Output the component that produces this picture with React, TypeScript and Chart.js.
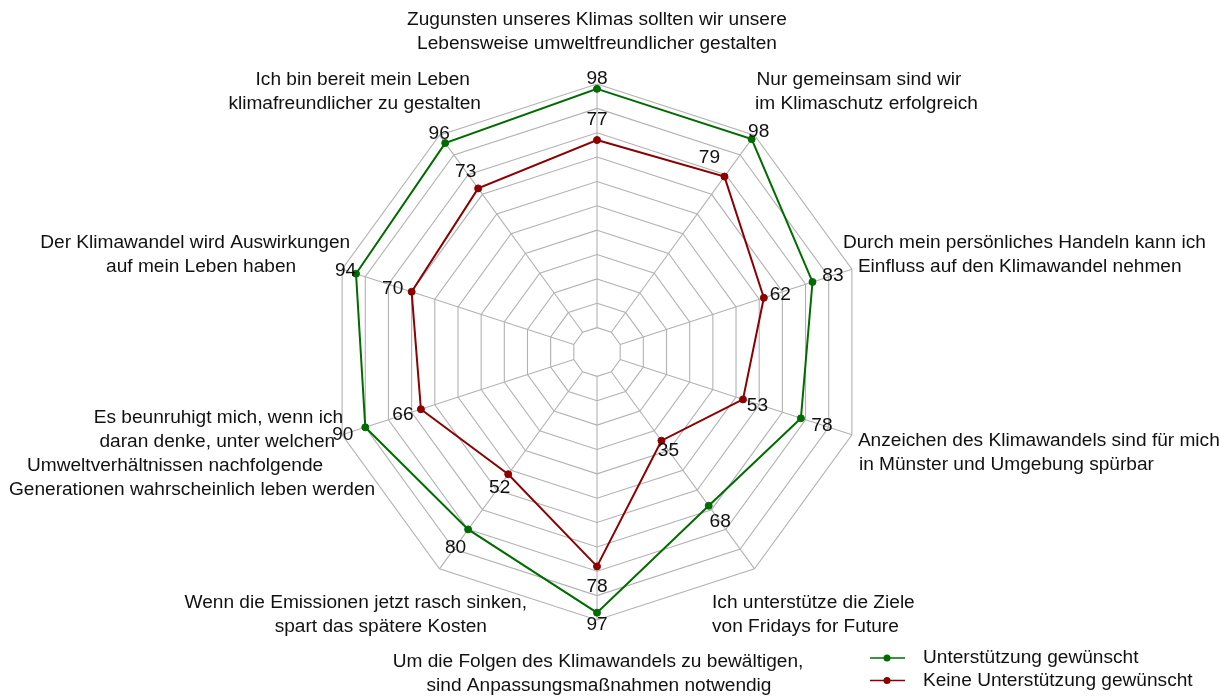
import React, { useEffect, useRef } from "react";
import { Chart, registerables } from "chart.js";

Chart.register(...registerables);

// ---------- data ----------
const categories: string[][] = [
  ["Zugunsten unseres Klimas sollten wir unsere", "Lebensweise umweltfreundlicher gestalten"],
  ["Nur gemeinsam sind wir", "im Klimaschutz erfolgreich"],
  ["Durch mein persönliches Handeln kann ich", "Einfluss auf den Klimawandel nehmen"],
  ["Anzeichen des Klimawandels sind für mich", "in Münster und Umgebung spürbar"],
  ["Ich unterstütze die Ziele", "von Fridays for Future"],
  ["Um die Folgen des Klimawandels zu bewältigen,", "sind Anpassungsmaßnahmen notwendig"],
  ["Wenn die Emissionen jetzt rasch sinken,", "spart das spätere Kosten"],
  [
    "Es beunruhigt mich, wenn ich",
    "daran denke, unter welchen",
    "Umweltverhältnissen nachfolgende",
    "Generationen wahrscheinlich leben werden",
  ],
  ["Der Klimawandel wird Auswirkungen", "auf mein Leben haben"],
  ["Ich bin bereit mein Leben", "klimafreundlicher zu gestalten"],
];

const supportWanted = [98, 98, 83, 78, 68, 97, 80, 90, 94, 96];
const noSupportWanted = [77, 79, 62, 53, 35, 78, 52, 66, 70, 73];
const seriesNames = ["Unterstützung gewünscht", "Keine Unterstützung gewünscht"];

const scaleMin = -10;
const scaleMax = 100;
const scaleStep = 10;

// ---------- styles / layout ----------
const GREEN = "rgb(0,108,0)";
const RED = "rgb(140,0,0)";
const GRID = "rgb(178,178,178)";
const TEXT = "#111";
const FONT = "19.1px 'Liberation Sans', Arial, sans-serif";

// label layout relative to the outer vertex of each axis: align + [dx, dy] per line
const labelLayout: { align: CanvasTextAlign; lines: number[][] }[] = [
  { align: "center", lines: [[0, -64], [0, -40]] },
  { align: "left", lines: [[2, -55], [0.5, -31]] },
  { align: "left", lines: [[-9, -26], [6, -2]] },
  { align: "left", lines: [[6, 6], [7, 30]] },
  { align: "left", lines: [[-42.5, 34], [-42.5, 58]] },
  { align: "center", lines: [[1, 42], [2, 66]] },
  { align: "right", lines: [[87.5, 34], [47.5, 58]] },
  { align: "right", lines: [[1, -17], [-7, 7], [-19, 31], [33, 55]] },
  { align: "right", lines: [[8, -26], [-46, -2]] },
  { align: "right", lines: [[30.5, -55], [41.5, -31]] },
];

// value label offsets relative to each point [dx, dy]
const greenLabelOffsets = [
  [0, -10], [7, -7], [20.5, -6], [21, 7], [11.5, 16], [0, 12], [-12.5, 18], [-22.5, 7], [-10.5, -2.5], [-6, -9],
];
const redLabelOffsets = [
  [0, -20], [-15, -19], [16.5, -3.5], [14.5, 6.5], [7, 10.5], [0, 20.5], [-8.5, 13.5], [-18, 6], [-19, -3.5], [-12.5, -16.5],
];

const customPlugin = {
  id: "customRadarDecor",
  beforeDatasetsDraw(chart: any) {
    const scale = chart.scales.r;
    const ctx = chart.ctx;
    const r0 = scale.getDistanceFromCenterForValue(0);
    const r1 = scale.getDistanceFromCenterForValue(scaleMax);
    ctx.save();
    ctx.strokeStyle = GRID;
    ctx.lineWidth = 1.1;
    for (let i = 0; i < categories.length; i++) {
      const a = scale.getPointPosition(i, r0);
      const b = scale.getPointPosition(i, r1);
      ctx.beginPath();
      ctx.moveTo(a.x, a.y);
      ctx.lineTo(b.x, b.y);
      ctx.stroke();
    }
    ctx.restore();
  },
  afterDraw(chart: any) {
    const scale = chart.scales.r;
    const ctx = chart.ctx;
    const rOuter = scale.getDistanceFromCenterForValue(scaleMax);
    ctx.save();
    ctx.font = FONT;
    ctx.fillStyle = TEXT;
    ctx.textBaseline = "middle";
    // category labels
    categories.forEach((lines, i) => {
      const v = scale.getPointPosition(i, rOuter);
      const lay = labelLayout[i];
      ctx.textAlign = lay.align;
      lines.forEach((line, j) => {
        const off = lay.lines[j];
        ctx.fillText(line, v.x + off[0], v.y + off[1]);
      });
    });
    // value labels
    ctx.textAlign = "center";
    const offs = [greenLabelOffsets, redLabelOffsets];
    chart.data.datasets.forEach((ds: any, di: number) => {
      const meta = chart.getDatasetMeta(di);
      meta.data.forEach((pt: any, i: number) => {
        const o = offs[di][i];
        ctx.fillText(String(ds.data[i]), pt.x + o[0], pt.y + o[1]);
      });
    });
    // legend
    const colors = [GREEN, RED];
    const legendX = 870;
    const legendY = 658;
    const rowH = 22.5;
    seriesNames.forEach((name, i) => {
      const y = legendY + i * rowH;
      ctx.strokeStyle = colors[i];
      ctx.lineWidth = 1.5;
      ctx.beginPath();
      ctx.moveTo(legendX, y);
      ctx.lineTo(legendX + 35, y);
      ctx.stroke();
      ctx.fillStyle = colors[i];
      ctx.beginPath();
      ctx.arc(legendX + 17, y, 3.5, 0, Math.PI * 2);
      ctx.fill();
      ctx.fillStyle = TEXT;
      ctx.textAlign = "left";
      ctx.fillText(name, legendX + 53, y);
    });
    ctx.restore();
  },
};

export default function App() {
  const canvasRef = useRef<HTMLCanvasElement | null>(null);

  useEffect(() => {
    if (!canvasRef.current) return;
    const chart = new Chart(canvasRef.current, {
      type: "radar",
      data: {
        labels: categories.map((c) => c.join(" ")),
        datasets: [
          {
            label: seriesNames[0],
            data: supportWanted,
            borderColor: GREEN,
            backgroundColor: GREEN,
            pointBackgroundColor: GREEN,
            pointBorderColor: GREEN,
            borderWidth: 2,
            pointRadius: 3.5,
            pointBorderWidth: 1,
            fill: false,
          },
          {
            label: seriesNames[1],
            data: noSupportWanted,
            borderColor: RED,
            backgroundColor: RED,
            pointBackgroundColor: RED,
            pointBorderColor: RED,
            borderWidth: 2,
            pointRadius: 3.5,
            pointBorderWidth: 1,
            fill: false,
          },
        ],
      },
      options: {
        responsive: false,
        animation: false,
        layout: { padding: { left: 329, right: 354, top: 84, bottom: 78 } },
        plugins: {
          legend: { display: false },
          tooltip: { enabled: false },
          title: { display: false },
        },
        elements: { line: { tension: 0 } },
        scales: {
          r: {
            min: scaleMin,
            max: scaleMax,
            ticks: { display: false, stepSize: scaleStep },
            grid: { color: GRID, lineWidth: 1.1, circular: false },
            angleLines: { display: false },
            pointLabels: { display: false },
          },
        },
      },
      plugins: [customPlugin],
    });
    return () => chart.destroy();
  }, []);

  return (
    <div style={{ position: "absolute", left: 0, top: 0, width: 1219, height: 698, background: "#fff" }}>
      <canvas ref={canvasRef} width={1219} height={698} style={{ display: "block" }} />
    </div>
  );
}
